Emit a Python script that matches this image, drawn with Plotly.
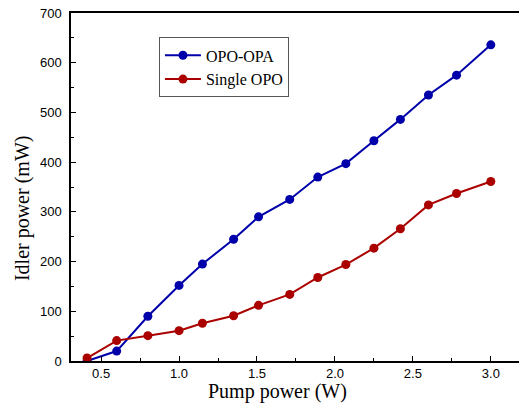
import plotly.graph_objects as go

pump_power = [0.41, 0.6, 0.8, 1.0, 1.15, 1.35, 1.51, 1.71, 1.89, 2.07, 2.25, 2.42, 2.6, 2.78, 3.0]
opo_opa = [0, 20, 90, 152, 195, 245, 290, 325, 370, 397, 443, 486, 535, 575, 636]
single_opo = [6, 41, 51, 61, 76, 91, 112, 134, 168, 194, 227, 266, 314, 337, 361]

x_tickvals = [0.5, 1.0, 1.5, 2.0, 2.5, 3.0]
x_ticktext = ["0.5", "1.0", "1.5", "2.0", "2.5", "3.0"]
y_tickvals = [0, 100, 200, 300, 400, 500, 600, 700]

blue = "#0000AA"
red = "#AA0000"

fig = go.Figure()
fig.add_trace(go.Scatter(x=pump_power, y=opo_opa, mode="lines+markers", name="OPO-OPA",
                         line=dict(color=blue, width=2), marker=dict(color=blue, size=9)))
fig.add_trace(go.Scatter(x=pump_power, y=single_opo, mode="lines+markers", name="Single OPO",
                         line=dict(color=red, width=2), marker=dict(color=red, size=9)))

fig.update_layout(
    width=522, height=406,
    margin=dict(l=71, r=0, t=13, b=45),
    paper_bgcolor="white", plot_bgcolor="white",
    showlegend=True,
    legend=dict(x=0.195, y=0.93, xanchor="left", yanchor="top",
                bordercolor="#555555", borderwidth=1, bgcolor="white",
                font=dict(family="Liberation Serif", size=16, color="black"),
                tracegroupgap=0, itemwidth=36),
    xaxis=dict(range=[0.307, 3.2], tickvals=x_tickvals, ticktext=x_ticktext,
               ticks="inside", ticklen=5, tickwidth=1, tickcolor="black",
               showline=True, linecolor="black", linewidth=1.5, mirror=True,
               showgrid=False, zeroline=False,
               tickfont=dict(family="Liberation Sans", size=13, color="black"),
               minor=dict(tickvals=[0.75, 1.25, 1.75, 2.25, 2.75], ticks="inside",
                          ticklen=3, tickcolor="black")),
    yaxis=dict(range=[0, 700], tickvals=y_tickvals,
               ticks="inside", ticklen=5, tickwidth=1, tickcolor="black",
               showline=True, linecolor="black", linewidth=1.5,
               showgrid=False, zeroline=False, ticklabelstandoff=5,
               tickfont=dict(family="Liberation Sans", size=13, color="black"),
               minor=dict(tickvals=[50, 150, 250, 350, 450, 550, 650], ticks="inside",
                          ticklen=3, tickcolor="black")),
    annotations=[
        dict(text="Pump power (W)", xref="paper", yref="paper", x=0.457, y=-0.088,
             xanchor="center", yanchor="middle", showarrow=False,
             font=dict(family="Liberation Serif", size=20, color="black")),
        dict(text="Idler power (mW)", xref="paper", yref="paper", x=-0.106, y=0.44,
             xanchor="center", yanchor="middle", showarrow=False, textangle=-90,
             font=dict(family="Liberation Serif", size=20, color="black")),
    ],
)

fig.write_html("out.html", config={"displayModeBar": False},
               post_script="document.body.style.margin='0';document.body.style.overflow='hidden';")
